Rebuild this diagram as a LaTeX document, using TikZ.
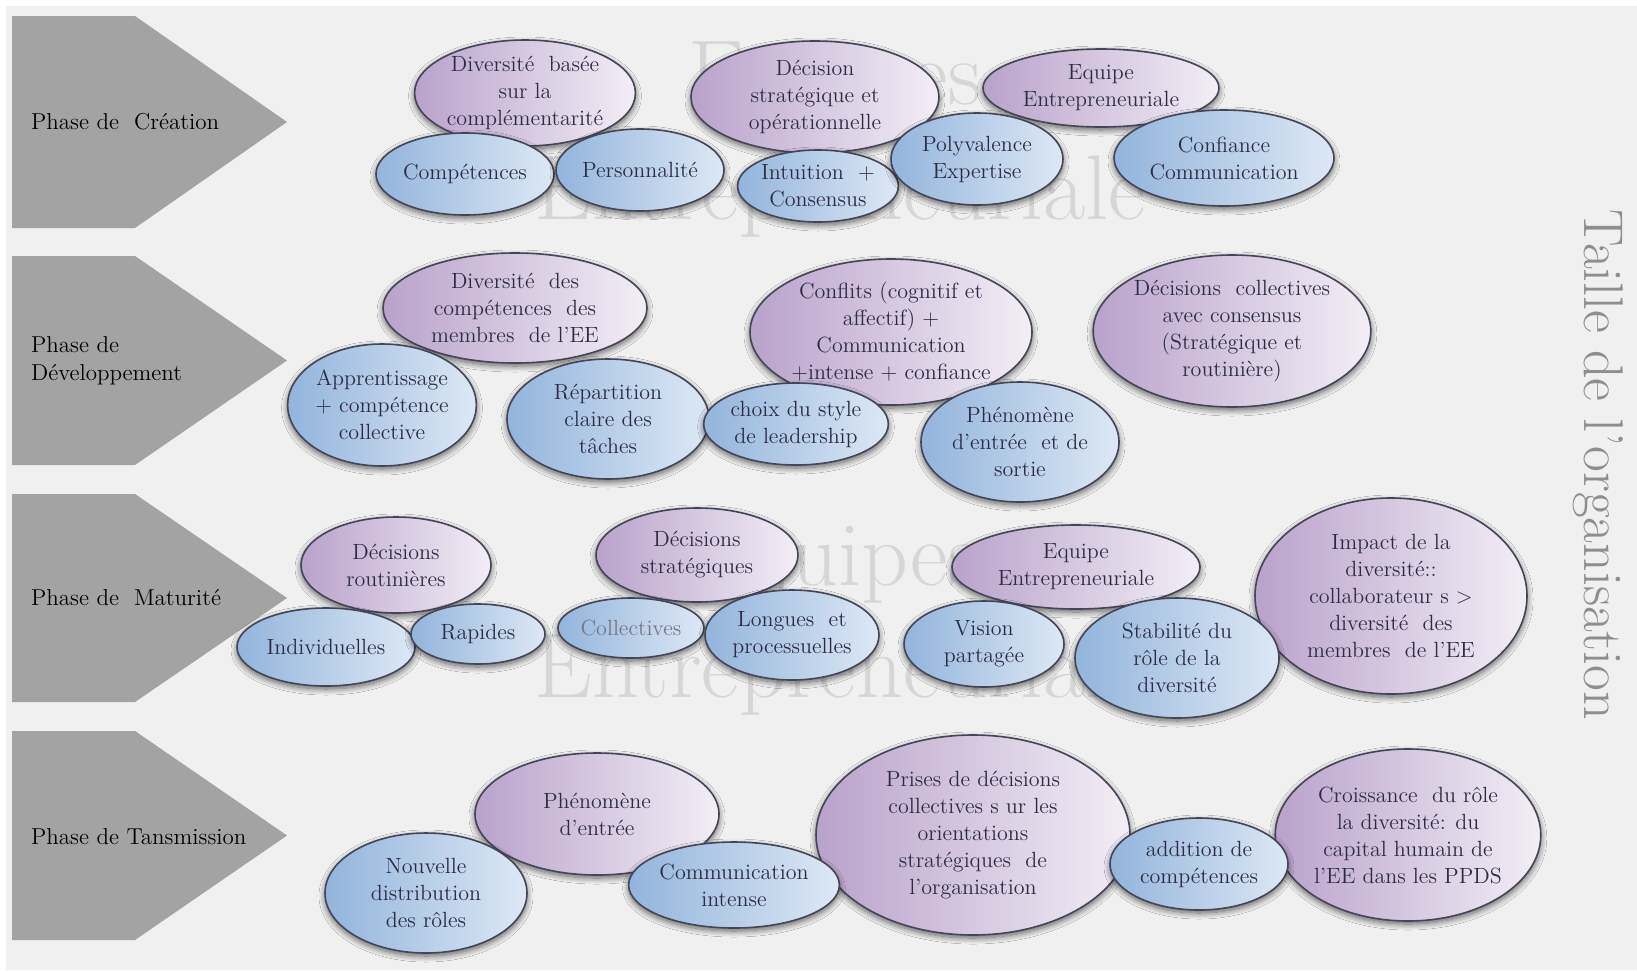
\documentclass[tikz,border=0pt]{standalone}
\usepackage{xcolor}
\usepackage{tikz}
\usetikzlibrary{shapes.geometric,shadows.blur}
\definecolor{BG}{HTML}{F0F0F0}
\definecolor{ARROW}{HTML}{A3A3A3}
\definecolor{EDGE}{HTML}{45455A}
\definecolor{INK}{HTML}{2C2C44}
\definecolor{PURL}{HTML}{B9A2CB}
\definecolor{PURR}{HTML}{F3EEF6}
\definecolor{BLUL}{HTML}{93B4DC}
\definecolor{BLUR}{HTML}{DDE8F5}
\definecolor{WMK}{HTML}{D6D6D6}
\definecolor{SIDE}{HTML}{8E8E8E}

\begin{document}
\begin{tikzpicture}[
  x=0.5pt, y=-0.5pt,
  font=\fontsize{11}{13.5}\selectfont,
  bub/.style={ellipse, draw=EDGE, line width=0.8pt, align=center, inner sep=0pt, text=INK,
    blur shadow={shadow xshift=0pt, shadow yshift=-1.5pt, shadow blur radius=3pt, shadow blur steps=10, shadow opacity=60}},
  pur/.style={bub, left color=PURL, right color=PURR},
  blu/.style={bub, left color=BLUL, right color=BLUR},
  sz/.style 2 args={minimum width=#1*0.5pt, minimum height=#2*0.5pt},
  lab/.style={anchor=west, align=left, font=\fontsize{11.5}{14}\selectfont, text=black},
  wmk/.style={anchor=base, text=WMK, font=\fontsize{46}{46}\selectfont},
  side/.style={text=SIDE, inner sep=0pt, font=\fontsize{28}{28}\selectfont},
]
\useasboundingbox (0,0) rectangle (1637,970);
\fill[white] (0,0) rectangle (1637,970);
\fill[BG] (6,6) rectangle (1637,970);

% watermark
\node[wmk] (wm1) at (835,104) {Equipes};
\node[wmk] (wm2) at (840,219) {Entrepreneuriale};
\node[wmk] (wm3) at (835,585) {Equipes};
\node[wmk] (wm4) at (840,697) {Entrepreneuriale};

% phases
\foreach \t/\b in {16/228, 256/465, 494/702, 731/940}
  \fill[ARROW] (12,\t) -- (135,\t) -- (287,{(\t+\b)/2}) -- (135,\b) -- (12,\b) -- cycle;
\node[lab] (creat) at (24,122) {Phase de\ \ Création};
\node[lab] (devel) at (24,361) {Phase de\\Développement};
\node[lab] (matur) at (24,598) {Phase de\ \ Maturité};
\node[lab] (trans) at (24,837) {Phase de Tansmission};

% creation
\node[pur, sz={198}{106}] (divc) at (525,93) {Diversité\ \ basée\\sur la\\complémentarité};
\node[pur, sz={248}{112}] (decso) at (815,97) {Décision\\stratégique et\\opérationnelle};
\node[pur, sz={236}{78}] (eqc) at (1101,88) {Equipe\\Entrepreneuriale};
\node[blu, sz={178}{82}] (comp) at (465,174) {Compétences};
\node[blu, sz={168}{82}] (pers) at (640,170) {Personnalité};
\node[blu, sz={150}{72}] (intu) at (818,186) {Intuition\ \ +\\Consensus};
\node[blu, sz={172}{92}] (poly) at (977,159) {Polyvalence\\Expertise};
\node[blu, sz={220}{96}] (conf) at (1224,158) {Confiance\\Communication};

% developpement
\node[pur, sz={264}{110}] (divd) at (515,308) {Diversité\ \ des\\compétences\ \ des\\membres\ \ de l'EE};
\node[pur, sz={254}{146}] (confl) at (891,332) {Conflits (cognitif et\\affectif) +\\Communication\\+intense + confiance};
\node[pur, sz={276}{152}] (deccol) at (1232,331) {Décisions\ \ collectives\\avec consensus\\(Stratégique et\\routinière)};
\node[blu, sz={176}{122}] (appr) at (382,405) {Apprentissage\\+ compétence\\collective};
\node[blu, sz={202}{120}] (repa) at (608,419) {Répartition\\claire des\\tâches};
\node[blu, sz={158}{82}] (choix) at (796,424) {choix du style\\de leadership};
\node[blu, sz={198}{120}] (phes) at (1020,442) {Phénomène\\d'entrée\ \ et de\\sortie};

% maturite
\node[pur, sz={190}{96}] (decr) at (396,565) {Décisions\\routinières};
\node[pur, sz={202}{94}] (decs) at (697,555) {Décisions\\stratégiques};
\node[pur, sz={248}{84}] (eqm) at (1076,567) {Equipe\\Entrepreneuriale};
\node[pur, sz={272}{196}] (impa) at (1391,596) {Impact de la\\diversité::\\collaborateur s >\\diversité\ \ des\\membres\ \ de l'EE};
\node[blu, sz={178}{78}] (indi) at (326,647) {Individuelles};
\node[blu, sz={134}{60}] (rapi) at (478,634) {Rapides};
\node[blu, sz={146}{60}, text=INK!65] (coll) at (631,628) {Collectives};
\node[blu, sz={174}{90}] (long) at (792,635) {Longues\ \ et\\processuelles};
\node[blu, sz={160}{86}] (visi) at (984,644) {Vision\\partagée};
\node[blu, sz={204}{120}] (stab) at (1177,658) {Stabilité du\\rôle de la\\diversité};

% transmission
\node[pur, sz={244}{122}] (phee) at (597,814) {Phénomène\\d'entrée};
\node[pur, sz={314}{200}] (pris) at (973,835) {Prises de décisions\\collectives s ur les\\orientations\\stratégiques\ \ de\\l'organisation};
\node[pur, sz={252}{172}] (croi) at (1408,835) {Croissance\ \ du rôle\\la diversité: du\\capital humain de\\l'EE dans les PPDS};
\node[blu, sz={202}{120}] (nouv) at (426,893) {Nouvelle\\distribution\\des rôles};
\node[blu, sz={184}{86}] (comm) at (734,885) {Communication\\intense};
\node[blu, sz={178}{92}] (addi) at (1199,864) {addition de\\compétences};

\node[side, rotate=-90] (taille) at (1598,465) {Taille de l'organisation};

\end{tikzpicture}
\end{document}
